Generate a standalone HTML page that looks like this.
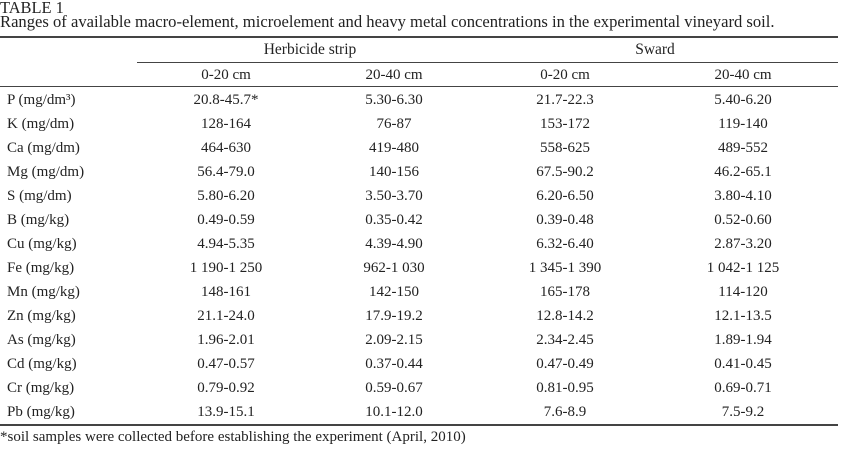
<!DOCTYPE html>
<html><head><meta charset="utf-8"><style>
body{margin:0;width:841px;height:460px;background:#fff;position:relative;overflow:hidden;font-family:"Liberation Serif",serif;font-size:15px;color:#222}
.t{position:absolute;white-space:nowrap;line-height:18px}
.c{transform:translateX(-50%)}
.l{position:absolute;background:#444}
</style></head><body>
<div class="t" style="left:0;top:-1px;font-size:16.4px">TABLE 1</div>
<div class="t" style="left:0;top:13px;font-size:16.6px">Ranges of available macro-element, microelement and heavy metal concentrations in the experimental vineyard soil.</div>
<div class="l" style="left:0;top:36px;width:838px;height:2px"></div>
<div class="t c" style="left:310px;top:41px;font-size:15.5px">Herbicide strip</div>
<div class="t c" style="left:655px;top:41px;font-size:15.5px">Sward</div>
<div class="l" style="left:137px;top:62px;width:701px;height:1px"></div>
<div class="t c" style="left:226px;top:66px">0-20 cm</div>
<div class="t c" style="left:394px;top:66px">20-40 cm</div>
<div class="t c" style="left:565px;top:66px">0-20 cm</div>
<div class="t c" style="left:743px;top:66px">20-40 cm</div>
<div class="l" style="left:0;top:86px;width:838px;height:1px"></div>
<div id="rows"></div>
<div class="l" style="left:0;top:424px;width:838px;height:2px"></div>
<div class="t" style="left:0;top:428px">*soil samples were collected before establishing the experiment (April, 2010)</div>
<script>
const labels=["P (mg/dm³)","K (mg/dm)","Ca (mg/dm)","Mg (mg/dm)","S (mg/dm)","B (mg/kg)","Cu (mg/kg)","Fe (mg/kg)","Mn (mg/kg)","Zn (mg/kg)","As (mg/kg)","Cd (mg/kg)","Cr (mg/kg)","Pb (mg/kg)"];
const herb020=["20.8-45.7*","128-164","464-630","56.4-79.0","5.80-6.20","0.49-0.59","4.94-5.35","1 190-1 250","148-161","21.1-24.0","1.96-2.01","0.47-0.57","0.79-0.92","13.9-15.1"];
const herb2040=["5.30-6.30","76-87","419-480","140-156","3.50-3.70","0.35-0.42","4.39-4.90","962-1 030","142-150","17.9-19.2","2.09-2.15","0.37-0.44","0.59-0.67","10.1-12.0"];
const sw020=["21.7-22.3","153-172","558-625","67.5-90.2","6.20-6.50","0.39-0.48","6.32-6.40","1 345-1 390","165-178","12.8-14.2","2.34-2.45","0.47-0.49","0.81-0.95","7.6-8.9"];
const sw2040=["5.40-6.20","119-140","489-552","46.2-65.1","3.80-4.10","0.52-0.60","2.87-3.20","1 042-1 125","114-120","12.1-13.5","1.89-1.94","0.41-0.45","0.69-0.71","7.5-9.2"];
const root=document.getElementById('rows');
labels.forEach((lab,i)=>{
  const top=91+i*24;
  const cells=[[lab,7,false,'row-label'],[herb020[i],226,true,'herb-0-20-value'],[herb2040[i],394,true,'herb-20-40-value'],[sw020[i],565,true,'sward-0-20-value'],[sw2040[i],743,true,'sward-20-40-value']];
  cells.forEach(c=>{
    const d=document.createElement('div');
    d.className='t'+(c[2]?' c':'');
    d.style.left=c[1]+'px';d.style.top=top+'px';
    d.textContent=c[0];
    
    
    root.appendChild(d);
  });
});
</script>
</body></html>
